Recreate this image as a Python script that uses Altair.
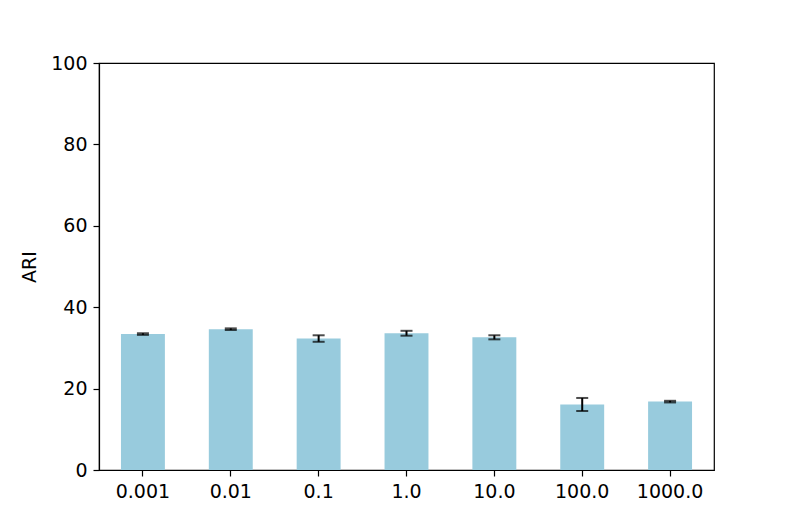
import altair as alt
import pandas as pd

categories = ["0.001", "0.01", "0.1", "1.0", "10.0", "100.0", "1000.0"]
means = [33.4, 34.6, 32.3, 33.6, 32.6, 16.1, 16.8]
errors = [0.2, 0.2, 0.8, 0.6, 0.5, 1.6, 0.2]

df = pd.DataFrame({"cat": categories, "mean": means, "err": errors})
df["lo"] = df["mean"] - df["err"]
df["hi"] = df["mean"] + df["err"]

FONT = "DejaVu Sans"

x = alt.X("cat:N", sort=categories, title=None,
          scale=alt.Scale(paddingInner=0.5, paddingOuter=0.25),
          axis=alt.Axis(labelAngle=0, labelFontSize=19, labelFont=FONT, labelColor="black",
                        tickColor="black", tickSize=6, tickWidth=1.2, labelPadding=6,
                        domainColor="black", domainWidth=1.2))
y_scale = alt.Scale(domain=[0, 100], nice=False)
y_axis = alt.Axis(values=[0, 20, 40, 60, 80, 100], grid=False, labelFontSize=19, labelFont=FONT,
                  labelColor="black", tickColor="black", tickSize=6, tickWidth=1.2,
                  labelPadding=6, domainColor="black", domainWidth=1.2,
                  titleFontSize=19, titleFont=FONT, titleFontWeight="normal",
                  titleColor="black", titlePadding=11)

base = alt.Chart(df)

bars = base.mark_bar(color="#98CBDD").encode(
    x=x,
    y=alt.Y("mean:Q", scale=y_scale, axis=y_axis, title="ARI"),
)
rules = base.mark_rule(color="black", strokeWidth=2).encode(
    x=alt.X("cat:N", sort=categories),
    y=alt.Y("lo:Q", scale=y_scale),
    y2="hi:Q",
)
cap_lo = base.mark_tick(color="black", thickness=2, size=12, orient="horizontal").encode(
    x=alt.X("cat:N", sort=categories),
    y=alt.Y("lo:Q", scale=y_scale),
)
cap_hi = base.mark_tick(color="black", thickness=2, size=12, orient="horizontal").encode(
    x=alt.X("cat:N", sort=categories),
    y=alt.Y("hi:Q", scale=y_scale),
)

chart = alt.layer(bars, rules, cap_lo, cap_hi).properties(
    width=615, height=407,
    autosize=alt.AutoSizeParams(type="none"),
    padding={"left": 91, "top": 55, "right": 71, "bottom": 51},
    background="white",
).configure_view(stroke="black", strokeWidth=1.2)

chart.save("out.html", embed_options={"renderer": "svg", "actions": False})
